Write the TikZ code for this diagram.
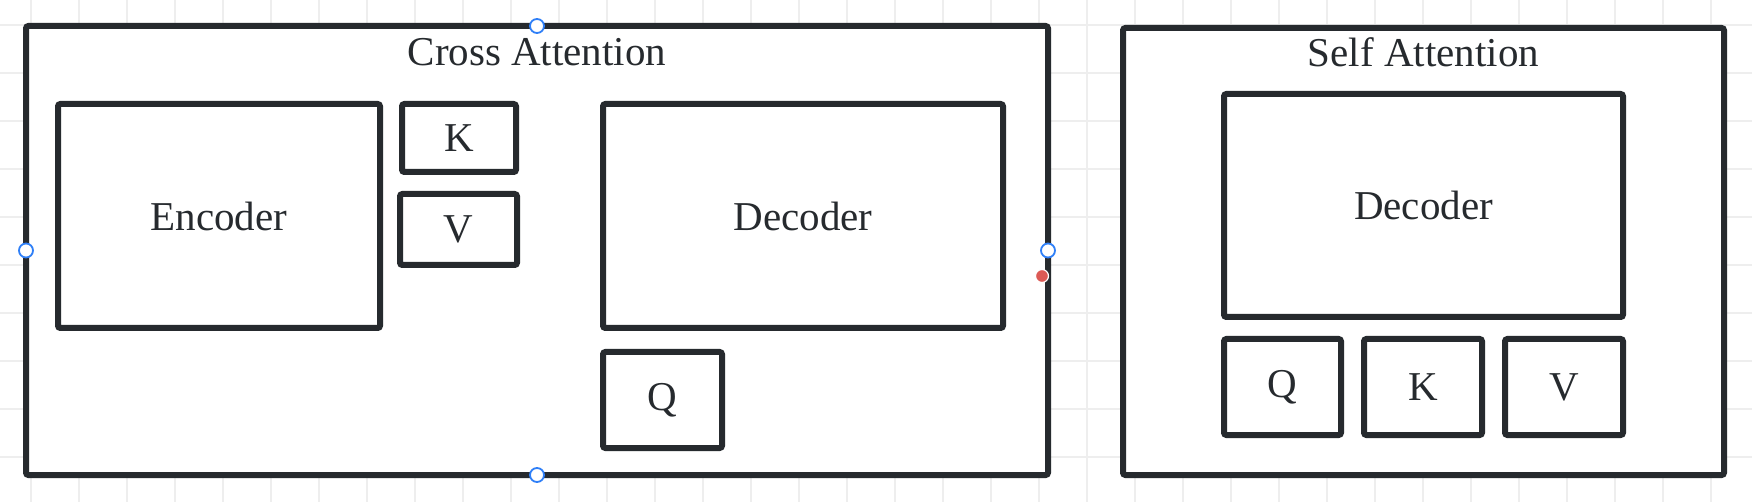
\documentclass[tikz,border=0pt]{standalone}
\usepackage{fontspec}
\setmainfont{Liberation Serif}
\definecolor{ink}{HTML}{262A2E}
\definecolor{gridc}{HTML}{EEEEEE}
\definecolor{handle}{HTML}{2F7FF7}
\definecolor{reddot}{HTML}{DC5A55}
\begin{document}
\begin{tikzpicture}[x=0.5pt,y=-0.5pt,
  gridline/.style={draw=gridc, line width=1pt},
  box/.style={draw=ink, line width=3pt, fill=white, rounded corners=1.2pt, inner sep=0pt, outer sep=0pt,
    font=\fontsize{20.5}{24}\selectfont, text=ink},
  ttl/.style={anchor=base, inner sep=0pt, font=\fontsize{20.5}{24}\selectfont, text=ink},
  hnd/.style={circle, draw=handle, fill=white, line width=0.9pt, minimum size=7pt, inner sep=0pt},
  rdot/.style={circle, fill=reddot, draw=white, line width=0.6pt, minimum size=6.5pt, inner sep=0pt}]
\useasboundingbox[fill=white] (0,0) rectangle (1752,502);
% background grid
\foreach \x in {31,79,...,1711} \draw[gridline] (\x,0) -- (\x,502);
\foreach \y in {25,73,...,457} \draw[gridline] (0,\y) -- (1752,\y);
% Cross attention
\node[box, minimum width=511pt, minimum height=224.5pt] (cross) at (537,250.5) {};
\node[ttl] (crossT) at (537,66) {Cross Attention};
\node[box, minimum width=161pt, minimum height=112pt] (enc) at (219,216) {Encoder};
\node[box, minimum width=57pt, minimum height=34pt] (ck) at (459,138) {K};
\node[box, minimum width=58.5pt, minimum height=35.5pt] (cv) at (458.5,229.5) {V};
\node[box, minimum width=200pt, minimum height=112pt] (cdec) at (803,216) {Decoder};
\node[box, minimum width=59.5pt, minimum height=48pt] (cq) at (662.5,400) {Q};
% Self attention
\node[box, minimum width=300.5pt, minimum height=223.5pt] (self) at (1423.5,251.5) {};
\node[ttl] (selfT) at (1423.5,67) {Self Attention};
\node[box, minimum width=199.5pt, minimum height=111.5pt] (sdec) at (1423.5,205.5) {Decoder};
\node[box, minimum width=58.5pt, minimum height=48pt] (sq) at (1282.5,387) {Q};
\node[box, minimum width=59pt, minimum height=48pt] (sk) at (1423,387) {K};
\node[box, minimum width=59pt, minimum height=48pt] (sv) at (1564,387) {V};
% selection handles
\node[hnd] (hn) at (cross.north) {};
\node[hnd] (hs) at (cross.south) {};
\node[hnd] (hw) at (cross.west) {};
\node[hnd] (he) at (cross.east) {};
\node[rdot] (rd) at (1042,276) {};
\end{tikzpicture}
\end{document}
